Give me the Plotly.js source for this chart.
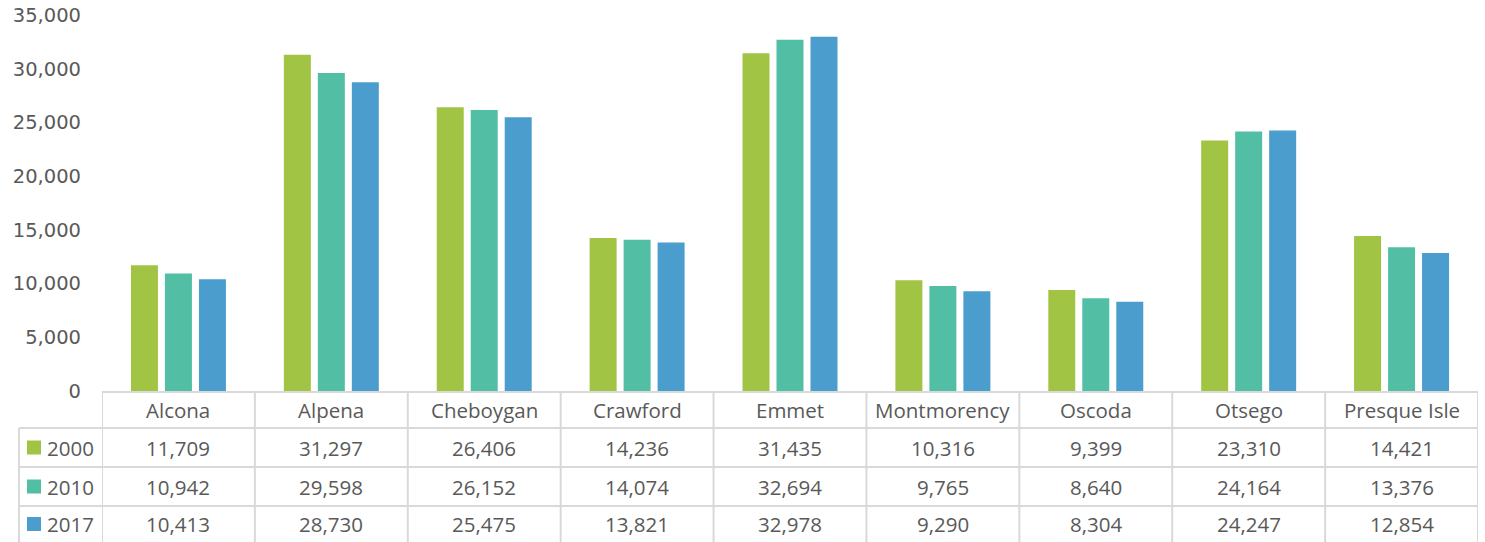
<!DOCTYPE html>
<html>
<head>
<meta charset="utf-8">
<script src="https://cdn.plot.ly/plotly-3.0.1.min.js"></script>
<style>html,body{margin:0;padding:0;background:#fff;}#chart{width:1485px;height:542px;}</style>
</head>
<body>
<div id="chart"></div>
<script>
const categories = ["Alcona","Alpena","Cheboygan","Crawford","Emmet","Montmorency","Oscoda","Otsego","Presque Isle"];
const seriesNames = ["2000","2010","2017"];
const values2000 = [11709,31297,26406,14236,31435,10316,9399,23310,14421];
const values2010 = [10942,29598,26152,14074,32694,9765,8640,24164,13376];
const values2017 = [10413,28730,25475,13821,32978,9290,8304,24247,12854];
const colors = ["#A2C445","#52BFA5","#4A9DCC"];
const seriesValues = [values2000, values2010, values2017];

const W = 1485, H = 542;
const L = 102, R = 1478, T = 15, B = 391;
const pw = R - L, ph = B - T;
const py = p => (B - p) / ph;
const px = p => (p - L) / pw;

const traces = seriesValues.map((v, i) => ({
  type: 'bar', x: categories, y: v, name: seriesNames[i],
  marker: {color: colors[i]}, hoverinfo: 'skip'
}));

const gridColor = '#d9d9d9';
const shapes = [];
const annotations = [];
const rowLines = [428, 467, 506];
const rowCenters = [447.5, 486.5, 524];
const headerCenter = 410;
const txtFont = {family: 'Open Sans, Noto Sans, sans-serif', size: 20.5, color: '#595959'};

// header top line (axis line)
shapes.push({type:'line', xref:'paper', yref:'paper', x0:0, x1:1, y0:py(392), y1:py(392), line:{color:gridColor, width:2}});
// horizontal row lines
rowLines.forEach(p => shapes.push({type:'line', xref:'paper', yref:'paper', x0:px(19), x1:1, y0:py(p), y1:py(p), line:{color:gridColor, width:2}}));
// vertical boundaries
for (let k = 0; k <= categories.length; k++) {
  shapes.push({type:'line', xref:'x', yref:'paper', x0:k-0.5, x1:k-0.5, y0:py(392), y1:py(545), line:{color:gridColor, width:2}});
}
shapes.push({type:'line', xref:'paper', yref:'paper', x0:px(19), x1:px(19), y0:py(428), y1:py(545), line:{color:gridColor, width:2}});

// header texts
categories.forEach(c => annotations.push({xref:'x', yref:'paper', x:c, y:py(headerCenter), text:c, showarrow:false, font:txtFont, xanchor:'center', yanchor:'middle'}));
// rows
seriesValues.forEach((vals, i) => {
  const yc = py(rowCenters[i]);
  shapes.push({type:'rect', xref:'paper', yref:'paper', x0:px(27), x1:px(41), y0:py(rowCenters[i]+7), y1:py(rowCenters[i]-7), fillcolor:colors[i], line:{width:0}});
  annotations.push({xref:'paper', yref:'paper', x:px(45), y:yc, text:seriesNames[i], showarrow:false, font:txtFont, xanchor:'left', yanchor:'middle'});
  vals.forEach((v, j) => annotations.push({xref:'x', yref:'paper', x:categories[j], y:yc, text:v.toLocaleString('en-US'), showarrow:false, font:txtFont, xanchor:'center', yanchor:'middle'}));
});

const layout = {
  width: W, height: H,
  margin: {l: L, r: W - R, t: T, b: H - B, pad: 0},
  paper_bgcolor: '#fff', plot_bgcolor: '#fff',
  showlegend: false,
  barmode: 'group', bargap: 0.333, bargroupgap: 0.206,
  xaxis: {type:'category', showticklabels:false, showgrid:false, zeroline:false, showline:false, ticks:'', range:[-0.5, categories.length-0.5]},
  yaxis: {range:[0,35000], dtick:5000, tickformat:',d', showgrid:false, zeroline:false, showline:false, ticks:'', ticklabelstandoff: 20,
          tickfont:{family:'DejaVu Sans, sans-serif', size:19.5, color:'#595959'}},
  shapes, annotations
};
Plotly.newPlot('chart', traces, layout, {staticPlot:true, displayModeBar:false});
</script>
</body>
</html>
